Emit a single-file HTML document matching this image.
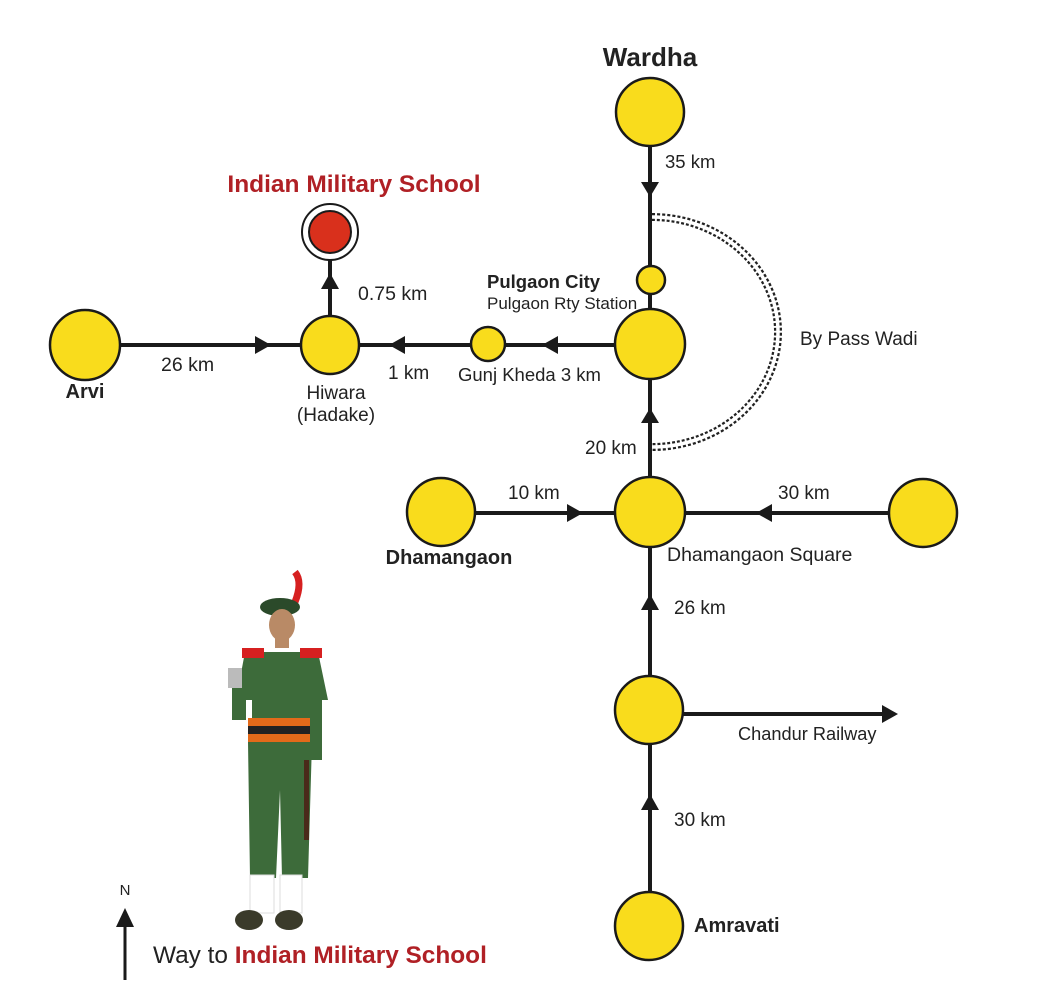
<!DOCTYPE html>
<html><head><meta charset="utf-8"><style>
html,body{margin:0;padding:0;background:#fff;}
svg{display:block;}
text{font-family:"Liberation Sans",Arial,sans-serif;fill:#222;}
</style></head><body>
<svg width="1056" height="992" viewBox="0 0 1056 992" xmlns="http://www.w3.org/2000/svg">
<rect width="1056" height="992" fill="#fff"/>
<g stroke="#1a1a1a" stroke-width="4" fill="none">
<line x1="650" y1="112" x2="650" y2="926"/>
<line x1="85" y1="345" x2="650" y2="345"/>
<line x1="330" y1="345" x2="330" y2="232"/>
<line x1="441" y1="513" x2="923" y2="513"/>
<line x1="650" y1="714" x2="885" y2="714"/>
</g>
<path d="M652 217 A126 115 0 0 1 652 447" fill="none" stroke="#222" stroke-width="8" stroke-dasharray="3 2"/>
<path d="M652 217 A126 115 0 0 1 652 447" fill="none" stroke="#fff" stroke-width="3.5"/>
<g fill="#1a1a1a">
<polygon points="641,182 659,182 650,197"/>
<polygon points="641,423 659,423 650,408"/>
<polygon points="641,610 659,610 650,594"/>
<polygon points="641,810 659,810 650,794"/>
<polygon points="255,336 255,354 271,345"/>
<polygon points="405,336 405,354 389,345"/>
<polygon points="558,336 558,354 542,345"/>
<polygon points="321,289 339,289 330,273"/>
<polygon points="567,504 567,522 583,513"/>
<polygon points="772,504 772,522 756,513"/>
<polygon points="882,705 882,723 898,714"/>
<polygon points="116,927 134,927 125,908"/>
</g>
<line x1="125" y1="920" x2="125" y2="980" stroke="#1a1a1a" stroke-width="3"/>
<g fill="#f9dc1c" stroke="#1a1a1a" stroke-width="2.5">
<circle cx="650" cy="112" r="34"/>
<circle cx="651" cy="280" r="14"/>
<circle cx="650" cy="344" r="35"/>
<circle cx="650" cy="512" r="35"/>
<circle cx="649" cy="710" r="34"/>
<circle cx="649" cy="926" r="34"/>
<circle cx="85" cy="345" r="35"/>
<circle cx="330" cy="345" r="29"/>
<circle cx="488" cy="344" r="17"/>
<circle cx="441" cy="512" r="34"/>
<circle cx="923" cy="513" r="34"/>
</g>
<circle cx="330" cy="232" r="28" fill="#fff" stroke="#1a1a1a" stroke-width="2"/>
<circle cx="330" cy="232" r="21" fill="#d9301c" stroke="#1a1a1a" stroke-width="2"/>
<text x="650" y="66" font-size="26" font-weight="bold" text-anchor="middle">Wardha</text>
<text x="665" y="168" font-size="18.5">35 km</text>
<text x="354" y="192" font-size="24.5" font-weight="bold" text-anchor="middle" style="fill:#b02025">Indian Military School</text>
<text x="358" y="300" font-size="19.5">0.75 km</text>
<text x="487" y="288" font-size="18.5" font-weight="bold">Pulgaon City</text>
<text x="487" y="309" font-size="17">Pulgaon Rty Station</text>
<text x="800" y="345" font-size="19">By Pass Wadi</text>
<text x="161" y="371" font-size="19.5">26 km</text>
<text x="85" y="398" font-size="20" font-weight="bold" text-anchor="middle">Arvi</text>
<text x="336" y="399" font-size="19" text-anchor="middle">Hiwara</text>
<text x="336" y="421" font-size="19" text-anchor="middle">(Hadake)</text>
<text x="388" y="379" font-size="19">1 km</text>
<text x="458" y="381" font-size="18.5">Gunj Kheda 3 km</text>
<text x="585" y="454" font-size="19">20 km</text>
<text x="508" y="499" font-size="19">10 km</text>
<text x="778" y="499" font-size="19">30 km</text>
<text x="449" y="564" font-size="20" font-weight="bold" text-anchor="middle">Dhamangaon</text>
<text x="667" y="561" font-size="19.5">Dhamangaon Square</text>
<text x="674" y="614" font-size="19">26 km</text>
<text x="738" y="740" font-size="18.2">Chandur Railway</text>
<text x="674" y="826" font-size="19">30 km</text>
<text x="694" y="932" font-size="20" font-weight="bold">Amravati</text>
<text x="125" y="895" font-size="15" text-anchor="middle">N</text>
<text x="153" y="963" font-size="24.4">Way to <tspan font-weight="bold" style="fill:#b02025">Indian Military School</tspan></text>
<g>
<path d="M295 572 q8 10 0 30" stroke="#d62020" stroke-width="7" fill="none"/>
<ellipse cx="280" cy="607" rx="20" ry="9" fill="#2b4a2a"/>
<ellipse cx="282" cy="625" rx="13" ry="16" fill="#b98a66"/>
<rect x="275" y="636" width="14" height="12" fill="#b98a66"/>
<path d="M245 652 L318 652 L328 700 L310 700 L310 720 L252 720 L252 700 L236 700 Z" fill="#3d6b3a"/>
<rect x="242" y="648" width="22" height="10" fill="#d62020"/>
<rect x="300" y="648" width="22" height="10" fill="#d62020"/>
<rect x="248" y="718" width="64" height="8" fill="#e36a1a"/>
<rect x="248" y="726" width="64" height="8" fill="#222"/>
<rect x="248" y="734" width="64" height="8" fill="#e36a1a"/>
<path d="M248 742 L312 742 L308 878 L282 878 L280 790 L276 878 L250 878 Z" fill="#3d6b3a"/>
<rect x="232" y="675" width="14" height="45" fill="#3d6b3a"/>
<rect x="310" y="690" width="12" height="70" fill="#3d6b3a"/>
<rect x="228" y="668" width="14" height="20" fill="#bbb"/>
<rect x="304" y="760" width="5" height="80" fill="#4a2a1a"/>
<rect x="250" y="875" width="24" height="38" fill="#fff" stroke="#ddd"/>
<rect x="280" y="875" width="22" height="38" fill="#fff" stroke="#ddd"/>
<ellipse cx="249" cy="920" rx="14" ry="10" fill="#3a3a2a"/>
<ellipse cx="289" cy="920" rx="14" ry="10" fill="#3a3a2a"/>
</g>
</svg>
</body></html>
